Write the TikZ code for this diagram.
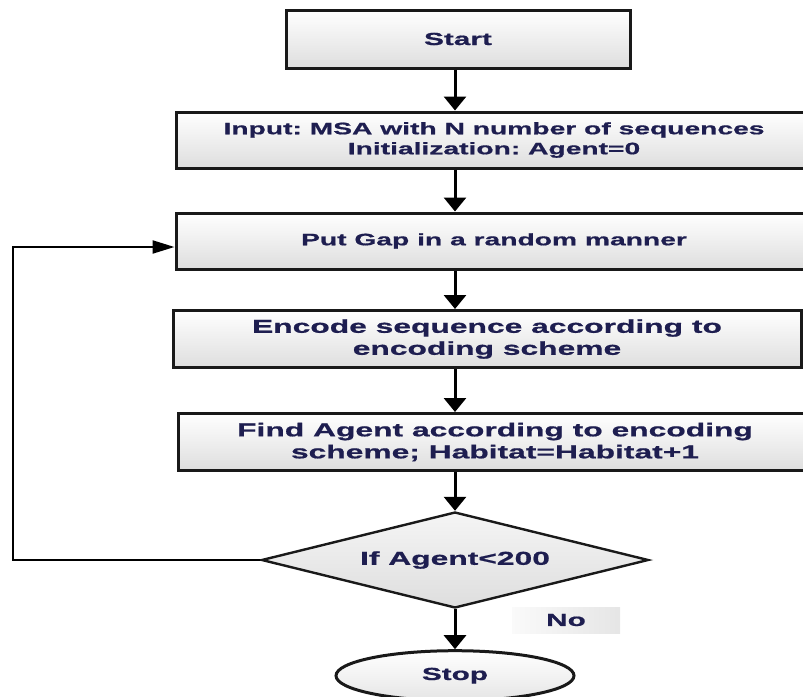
\documentclass[tikz,border=0pt]{standalone}
\usepackage{fontspec}
\usepackage{tikz}
\usetikzlibrary{positioning, shapes.geometric, arrows.meta}

\newfontfamily\flussfont[FakeStretch=1.7, FakeBold=0.8]{Liberation Sans}
\definecolor{schrift}{RGB}{30,30,80}
\frenchspacing

\begin{document}
\begin{tikzpicture}[
            x=1pt, y=-1pt,
            kasten/.style={
                    draw=black!90,
                    rectangle,
                    line width=3pt,
                    top color=white,
                    bottom color=black!13,
                    text=schrift,
                    align=center,
                    inner sep=0pt,
                    font=\flussfont\bfseries\fontsize{18.7}{22}\selectfont
                },
            klein/.style={
                    font=\flussfont\bfseries\fontsize{16.6}{20}\selectfont
                },
            mittel/.style={
                    font=\flussfont\bfseries\fontsize{17.5}{21}\selectfont
                },
            raute/.style={
                    draw=black!90,
                    diamond,
                    aspect=4,
                    line width=2.4pt,
                    top color=black!4,
                    bottom color=black!13,
                    minimum width=387pt,
                    minimum height=96pt,
                    inner sep=0pt,
                    text=schrift,
                    font=\flussfont\bfseries\fontsize{18.7}{22}\selectfont
                },
            oval/.style={
                    draw=black!90,
                    ellipse,
                    line width=3pt,
                    top color=white,
                    bottom color=black!10,
                    minimum width=238pt,
                    minimum height=50pt,
                    inner sep=0pt,
                    text=schrift,
                    mittel
                },
            hinweis/.style={
                    rectangle,
                    left color=black!2,
                    right color=black!10,
                    minimum width=108pt,
                    minimum height=26pt,
                    inner sep=0pt,
                    text=schrift,
                    mittel
                },
            pfeil/.style={
                    draw,
                    line width=3pt,
                    -{Triangle[length=14pt, width=22pt]}
                },
            rueckpfeil/.style={
                    draw,
                    line width=2.2pt,
                    -{Triangle[length=22pt, width=13pt]}
                }
        ]

        \clip (0,0) rectangle (803,696);

        \node[kasten, mittel, minimum width=344pt, minimum height=58pt] (start) at (458,39) {Start};
        \node[kasten, klein, minimum width=636pt, minimum height=56pt] (input) at (494,140) {Input: MSA with N number of sequences\\Initialization: Agent=0};
        \node[kasten, klein, minimum width=636pt, minimum height=56pt] (gap) at (494,241) {Put Gap in a random manner};
        \node[kasten, minimum width=628pt, minimum height=57pt] (encode) at (487,339) {Encode sequence according to\\encoding scheme};
        \node[kasten, minimum width=634pt, minimum height=57pt] (find) at (495,442) {Find Agent according to encoding\\scheme; Habitat=Habitat+1};
        \node[raute] (cond) at (455,560) {If Agent<200};
        \node[oval, below=40pt of cond] (stop) {Stop};
        \node[hinweis] (no) at (566,620) {No};

        \draw[pfeil] (start.south -| cond.north) -- (input.north -| cond.north);
        \draw[pfeil] (input.south -| cond.north) -- (gap.north -| cond.north);
        \draw[pfeil] (gap.south -| cond.north) -- (encode.north -| cond.north);
        \draw[pfeil] (encode.south -| cond.north) -- (find.north -| cond.north);
        \draw[pfeil] (find.south -| cond.north) -- (cond.north);
        \draw[pfeil] (cond.south) -- (stop.north);

        \coordinate (ecke) at (13,247);
        \draw[rueckpfeil] (cond.west) -| (ecke) -- (ecke -| gap.west);

    \end{tikzpicture}
\end{document}
